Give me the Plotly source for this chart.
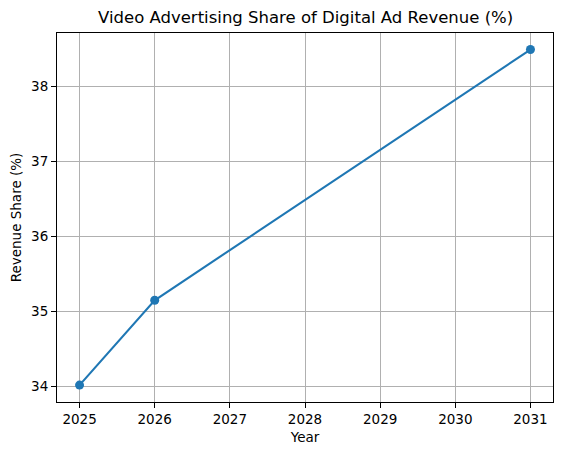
import plotly.graph_objects as go

years = [2025, 2026, 2031]
share = [34.02, 35.15, 38.49]
x_ticks = [2025, 2026, 2027, 2028, 2029, 2030, 2031]
y_ticks = [34, 35, 36, 37, 38]

font_family = "DejaVu Sans"

fig = go.Figure()
fig.add_trace(go.Scatter(
    x=years, y=share, mode="lines+markers",
    line=dict(color="#1f77b4", width=2.1),
    marker=dict(color="#1f77b4", size=9),
    showlegend=False,
))

axis_common = dict(
    showgrid=True, gridcolor="#b0b0b0", gridwidth=1.1,
    showline=True, linecolor="black", linewidth=1.1, mirror=True,
    ticks="outside", ticklen=5, tickwidth=1.1, tickcolor="black",
    zeroline=False, automargin=False,
    tickfont=dict(family=font_family, size=13.5, color="black"),
)

# page has an 8px body margin, so the figure is offset by 8px
fig.update_layout(
    width=554, height=447,
    margin=dict(l=49, r=9, t=25, b=53),
    paper_bgcolor="white", plot_bgcolor="white",
    font=dict(family=font_family, color="black"),
    xaxis=dict(range=[2024.7, 2031.3], tickvals=x_ticks,
               ticktext=[str(v) for v in x_ticks],
               title=dict(text="Year", font=dict(family=font_family, size=13.5), standoff=6),
               **axis_common),
    yaxis=dict(range=[33.795, 38.71], tickvals=y_ticks,
               ticktext=[str(v) for v in y_ticks],
               title=dict(text="Revenue Share (%)", font=dict(family=font_family, size=13.5), standoff=8),
               **axis_common),
    annotations=[dict(
        text="Video Advertising Share of Digital Ad Revenue (%)",
        xref="paper", yref="paper", x=0.5, y=1, xanchor="center", yanchor="bottom",
        yshift=4, showarrow=False,
        font=dict(family=font_family, size=16.5, color="black"),
    )],
)

fig.write_html("out.html")
